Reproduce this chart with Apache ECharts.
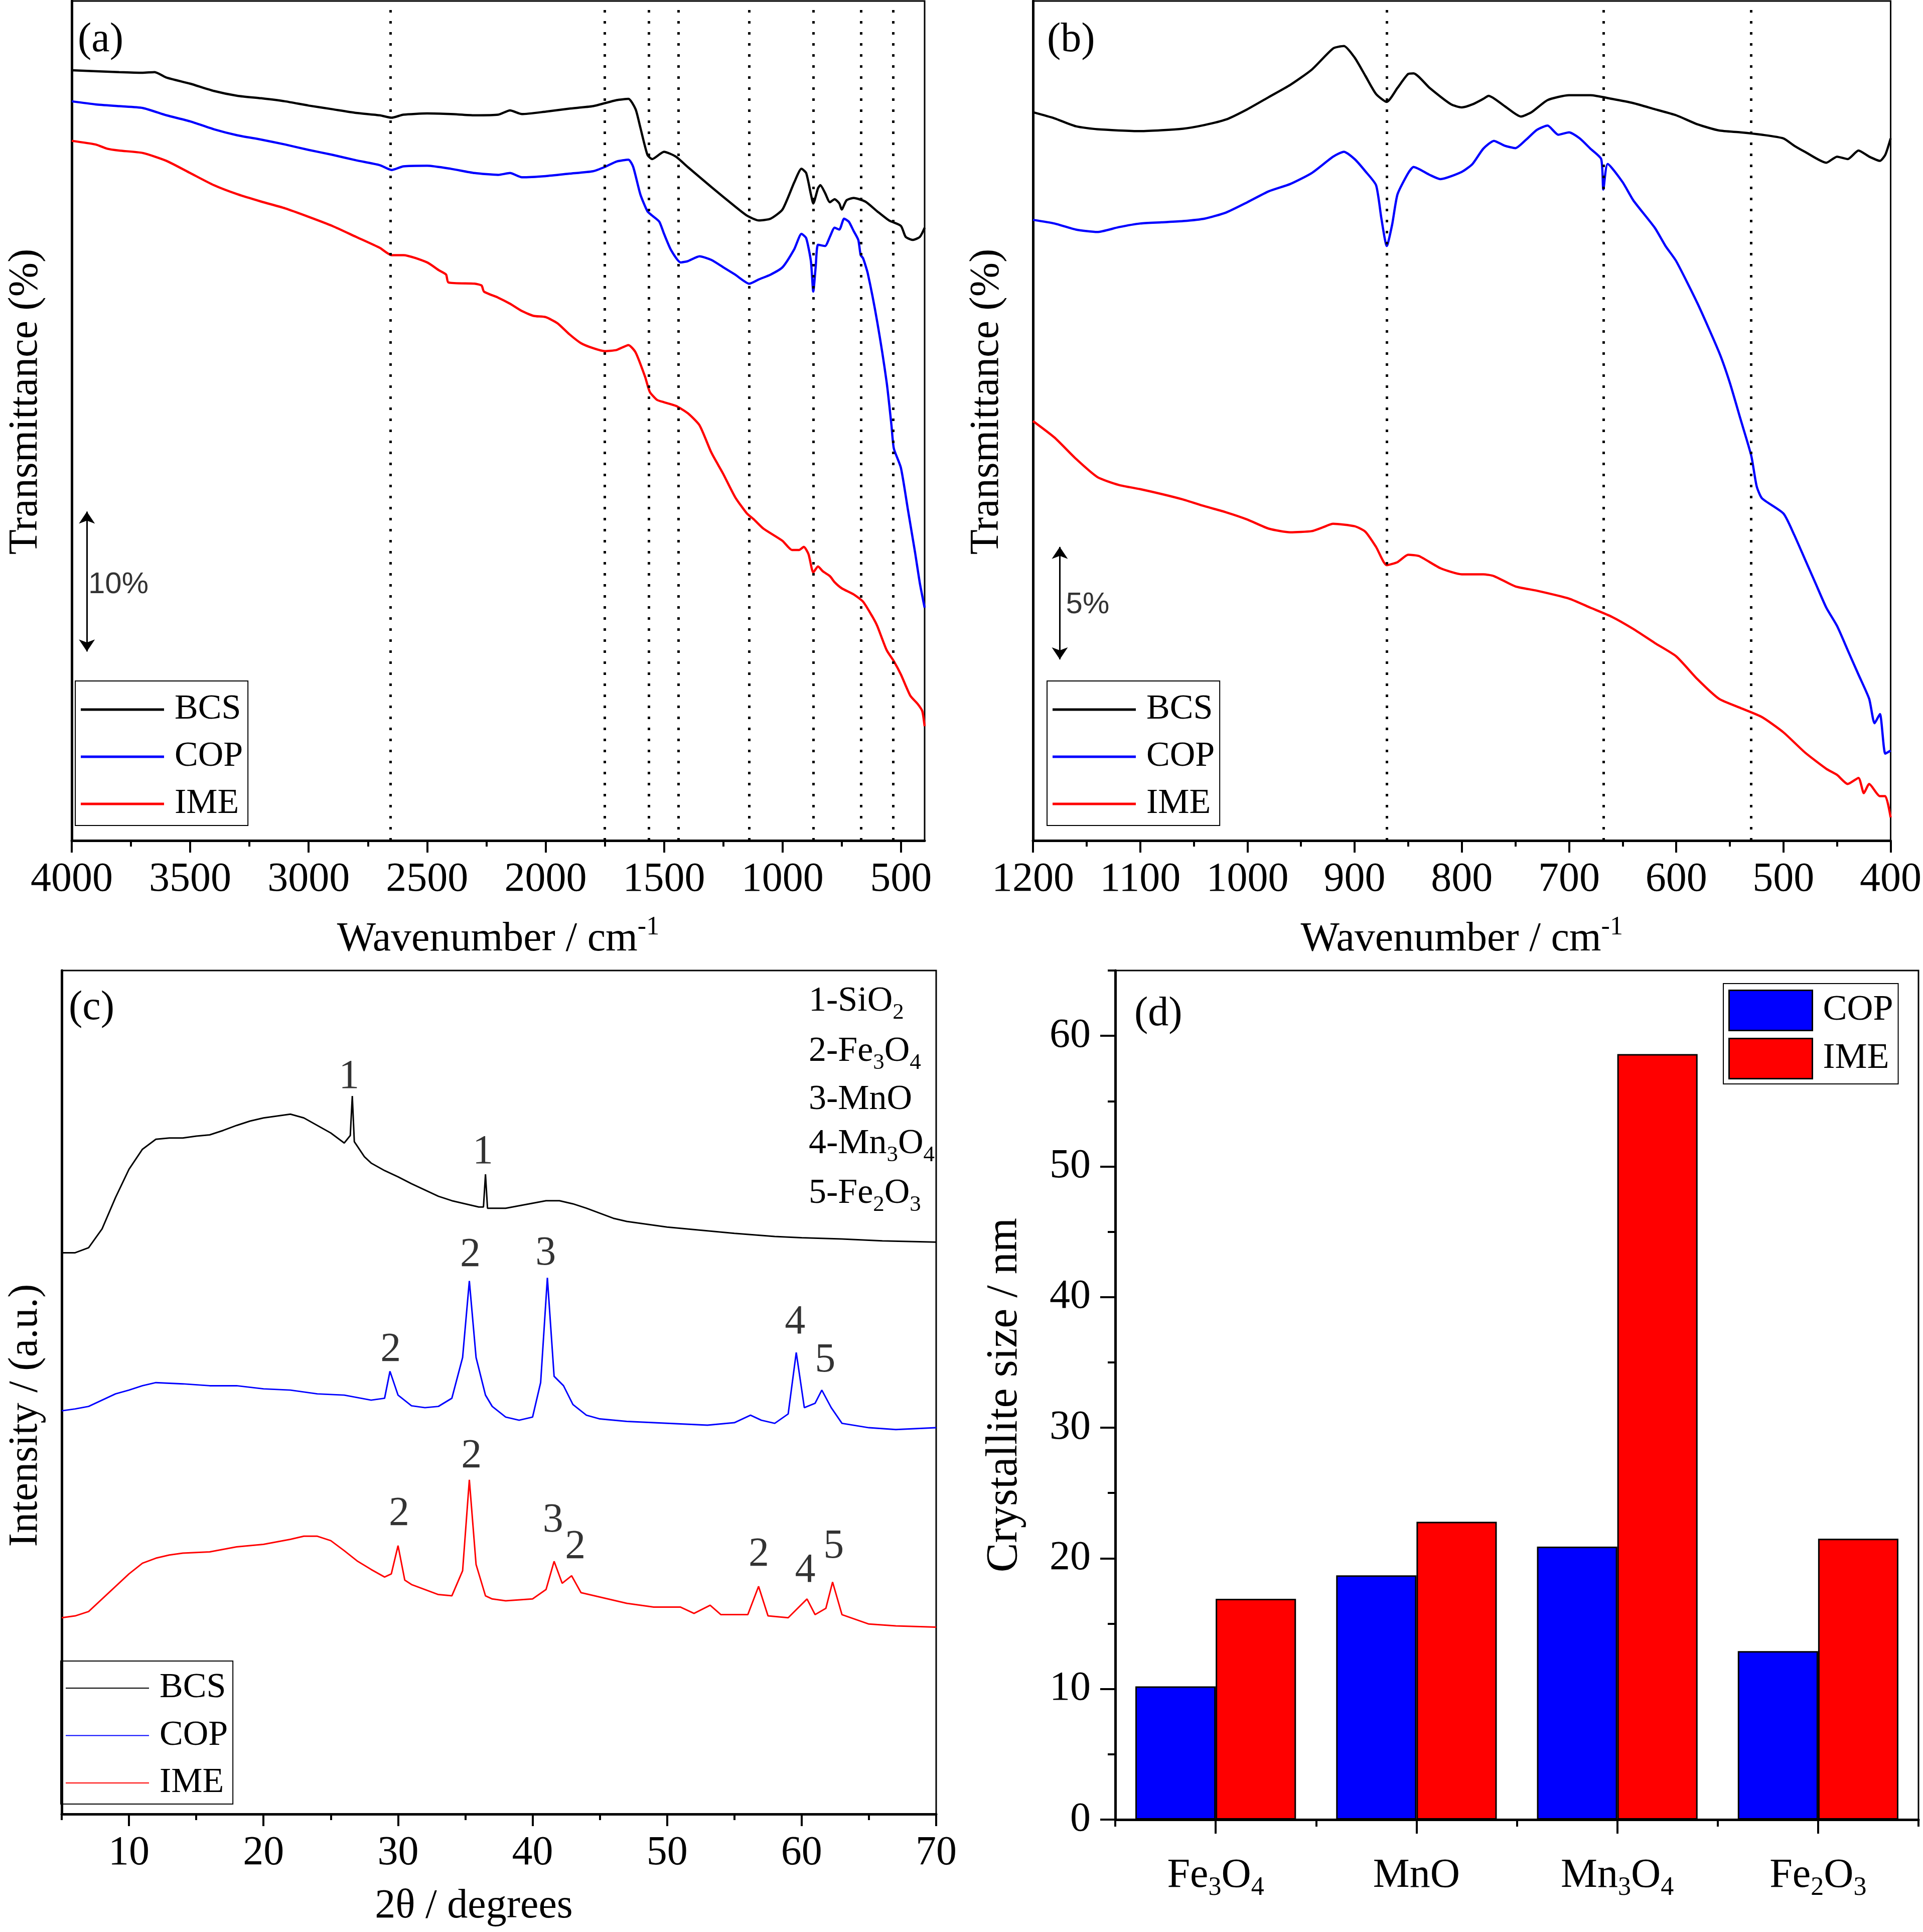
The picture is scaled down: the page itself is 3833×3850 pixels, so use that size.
<!DOCTYPE html>
<html>
<head>
<meta charset="utf-8">
<script src="https://cdn.jsdelivr.net/npm/echarts@6/dist/echarts.min.js"></script>
<style>
  html, body { margin: 0; padding: 0; background: #fff; }
  #main { width: 3833px; height: 3850px; }
</style>
</head>
<body>
<div id="main"></div>
<script>
// ---- (a) FTIR, 4000-400 cm-1 (transmittance, arbitrary offset units) ----
const bcsA = [[4000,1267],[3800,1264],[3700,1263],[3650,1264],[3600,1255],[3500,1245],[3400,1233],[3300,1225],[3200,1221],[3100,1216],[3000,1209],[2900,1203],[2800,1197],[2700,1193],[2650,1189],[2600,1194],[2500,1196],[2400,1195],[2300,1193],[2200,1194],[2150,1201],[2100,1195],[2000,1199],[1900,1204],[1800,1208],[1700,1218],[1650,1220],[1620,1203],[1600,1173],[1570,1128],[1550,1121],[1500,1133],[1450,1125],[1400,1108],[1300,1075],[1200,1043],[1150,1028],[1100,1020],[1050,1023],[1000,1038],[950,1083],[920,1105],[900,1098],[880,1063],[870,1048],[850,1073],[840,1078],[820,1065],[800,1050],[780,1055],[760,1048],[750,1038],[730,1053],[700,1057],[650,1051],[600,1035],[550,1020],[500,1011],[480,993],[450,988],[420,993],[400,1008]];
const copA = [[4000,1216],[3900,1211],[3800,1208],[3700,1205],[3600,1193],[3500,1183],[3400,1170],[3300,1160],[3200,1153],[3100,1145],[3000,1136],[2900,1128],[2800,1119],[2700,1111],[2650,1103],[2600,1109],[2500,1110],[2400,1105],[2300,1098],[2200,1095],[2150,1098],[2100,1091],[2000,1093],[1900,1097],[1800,1101],[1750,1108],[1700,1117],[1650,1120],[1630,1108],[1600,1063],[1570,1035],[1550,1028],[1520,1018],[1500,998],[1470,971],[1430,951],[1400,953],[1350,961],[1300,955],[1250,943],[1200,931],[1140,916],[1100,923],[1050,931],[1000,943],[950,973],[920,998],[900,991],[880,953],[870,903],[860,943],[850,980],[820,978],[800,993],[780,1008],[760,1005],[740,1023],[720,1018],[700,1003],[680,988],[670,963],[660,958],[640,933],[600,853],[560,753],[540,683],[530,645],[500,613],[470,543],[440,473],[420,423],[400,383]];
const imeA = [[4000,1151],[3900,1145],[3850,1138],[3800,1135],[3700,1131],[3600,1118],[3500,1098],[3400,1078],[3300,1063],[3200,1051],[3100,1040],[3000,1026],[2900,1011],[2800,993],[2700,975],[2650,963],[2600,963],[2500,951],[2450,938],[2420,931],[2410,918],[2300,916],[2270,913],[2260,903],[2200,893],[2150,883],[2100,871],[2050,863],[2000,861],[1950,851],[1900,833],[1850,818],[1800,810],[1750,805],[1700,807],[1650,815],[1620,803],[1580,763],[1560,738],[1530,725],[1500,721],[1450,715],[1400,703],[1350,683],[1300,638],[1250,603],[1200,565],[1150,538],[1120,528],[1080,513],[1000,493],[960,478],[930,478],[910,483],[890,471],[870,441],[850,451],[830,443],[800,435],[780,425],[750,415],[700,405],[660,393],[620,368],[600,353],[560,313],[530,295],[500,273],[460,238],[430,225],[410,213],[400,188]];
const dotsA = [2655, 1750, 1565, 1440, 1140, 870, 668, 532];
const ticksA = [4000, 3500, 3000, 2500, 2000, 1500, 1000, 500];
const minorA = [3750, 3250, 2750, 2250, 1750, 1250, 750];
const scaleBarA = [3936, 541, 311];   // x, top, bottom (10 %)

// ---- (b) FTIR, 1200-400 cm-1 ----
const bcsB = [[1200,1198],[1180,1188],[1160,1175],[1140,1170],[1100,1167],[1060,1171],[1040,1177],[1020,1186],[1000,1203],[980,1223],[960,1243],[940,1268],[920,1303],[910,1307],[900,1288],[890,1258],[880,1228],[870,1215],[860,1238],[850,1261],[845,1262],[830,1238],[810,1211],[800,1206],[790,1211],[780,1220],[775,1225],[760,1208],[745,1191],[735,1198],[720,1218],[700,1226],[680,1226],[660,1220],[640,1213],[620,1203],[600,1193],[580,1178],[560,1168],[540,1165],[520,1161],[500,1155],[490,1143],[480,1133],[460,1115],[450,1125],[440,1121],[430,1135],[420,1125],[410,1118],[405,1128],[400,1155]];
const copB = [[1200,1021],[1180,1015],[1160,1005],[1140,1001],[1120,1009],[1100,1015],[1080,1017],[1060,1019],[1040,1023],[1020,1033],[1000,1050],[980,1068],[960,1080],[940,1098],[920,1125],[910,1133],[900,1121],[890,1101],[880,1078],[875,1023],[870,978],[865,1013],[860,1063],[850,1098],[845,1108],[830,1095],[820,1088],[800,1100],[790,1113],[780,1138],[770,1151],[760,1143],[750,1139],[740,1153],[730,1169],[720,1176],[710,1161],[700,1165],[690,1155],[680,1138],[670,1121],[668,1071],[664,1113],[650,1083],[640,1053],[620,1008],[610,978],[600,953],[580,883],[560,803],[550,753],[540,693],[530,633],[525,583],[520,563],[500,538],[490,503],[480,463],[470,423],[460,383],[450,353],[440,313],[430,273],[420,233],[415,193],[410,208],[405,143],[400,148]];
const imeB = [[1200,690],[1180,663],[1160,628],[1140,598],[1120,585],[1100,578],[1080,570],[1060,561],[1040,550],[1020,540],[1000,528],[980,513],[960,507],[940,509],[930,515],[920,521],[900,517],[890,508],[880,483],[870,453],[860,458],[850,470],[840,468],[820,448],[800,438],[780,438],[770,435],[750,418],[730,411],[700,398],[680,383],[660,368],[640,348],[620,325],[600,303],[580,265],[560,233],[540,218],[520,203],[500,178],[480,145],[460,118],[450,108],[440,93],[430,103],[425,78],[420,93],[410,73],[405,73],[400,38]];
const dotsB = [870, 668, 530];
const ticksB = [1200, 1100, 1000, 900, 800, 700, 600, 500, 400];
const minorB = [1150, 1050, 950, 850, 750, 650, 550, 450];
const scaleBarB = [1175, 483, 298];   // x, top, bottom (5 %)

// ---- (c) XRD, 2theta 5-70 (intensity, arbitrary units) ----
const bcsC = [[5,895],[6,895],[7,903],[8,933],[9,983],[10,1028],[11,1060],[12,1076],[13,1078],[14,1078],[15,1081],[16,1083],[17,1090],[18,1098],[19,1105],[20,1110],[21,1113],[22,1116],[23,1110],[24,1098],[25,1086],[26,1070],[26.45,1082],[26.6,1145],[26.75,1072],[27.5,1048],[28,1038],[29,1026],[30,1016],[31,1005],[32,995],[33,985],[34,978],[35,973],[36,968],[36.35,968],[36.5,1020],[36.65,966],[38,966],[39,970],[40,974],[41,978],[42,978],[43,973],[44,966],[45,958],[46,950],[47,945],[48,942],[50,936],[52,932],[55,926],[58,921],[60,919],[63,917],[66,914],[70,912]];
const copC = [[5,643],[6,646],[7,650],[8,660],[9,670],[10,676],[11,683],[12,688],[14,686],[16,683],[18,683],[20,678],[22,676],[24,670],[26,668],[28,660],[29,663],[29.4,706],[30,668],[31,651],[32,648],[33,650],[34,663],[34.8,728],[35.3,850],[35.8,728],[36.5,668],[37,650],[38,633],[39,628],[40,633],[40.6,688],[41.1,855],[41.6,698],[42.3,683],[43,653],[44,636],[45,630],[47,626],[50,623],[53,620],[55,624],[56.2,636],[57,628],[58,623],[59,638],[59.6,736],[60.2,648],[61,655],[61.5,676],[62.2,648],[63,623],[65,616],[67,613],[70,616]];
const imeC = [[5,313],[6,316],[7,323],[8,343],[9,363],[10,383],[11,400],[12,408],[13,413],[14,416],[16,418],[18,426],[20,430],[22,438],[23,443],[24,443],[25,436],[26,420],[27,403],[28,390],[29,378],[29.5,383],[30,428],[30.5,373],[31,366],[32,358],[33,350],[34,348],[34.8,388],[35.3,533],[35.8,398],[36.5,348],[37,343],[38,340],[40,343],[41,358],[41.6,403],[42.2,368],[42.9,380],[43.6,353],[45,346],[47,336],[49,330],[51,330],[52,320],[53.2,333],[54,318],[56,318],[56.8,363],[57.5,316],[59,313],[60.4,343],[61,318],[61.8,328],[62.3,370],[63,318],[65,303],[67,300],[70,298]];
const peakLabelsC = [[26.36,1175,'1'],[36.31,1055,'1'],[29.45,740,'2'],[35.37,891,'2'],[40.98,893,'3'],[59.51,784,'4'],[61.75,723,'5'],[30.08,478,'2'],[35.46,570,'2'],[41.52,468,'3'],[43.18,425,'2'],[56.82,413,'2'],[60.27,388,'4'],[62.38,426,'5']];
const phaseKeyC = ['1-SiO{s|2}', '2-Fe{s|3}O{s|4}', '3-MnO', '4-Mn{s|3}O{s|4}', '5-Fe{s|2}O{s|3}'];
const ticksC = [10, 20, 30, 40, 50, 60, 70];
const minorC = [5, 15, 25, 35, 45, 55, 65];

// ---- (d) crystallite size ----
const catsD = ['Fe3O4', 'MnO', 'Mn3O4', 'Fe2O3'];
const copD = [10.2, 18.7, 20.9, 12.9];
const imeD = [16.9, 22.8, 58.6, 21.5];
const ticksD = [0, 10, 20, 30, 40, 50, 60];
const minorD = [5, 15, 25, 35, 45, 55, 65];

const F = '"Liberation Serif", "Times New Roman", serif';
const black = '#000';
const BLUE = '#0000ff';
const RED = '#ff0000';

const chart = echarts.init(document.getElementById('main'));

const axisLine = { show: true, onZero: false, lineStyle: { color: black, width: 5 } };
const subRich = { s: { fontFamily: F, fontSize: 52, lineHeight: 56, verticalAlign: 'bottom', color: black } };
const keyRich = { s: { fontFamily: F, fontSize: 45, lineHeight: 50, verticalAlign: 'bottom', color: black } };
const supRich = { p: { fontFamily: F, fontSize: 52, lineHeight: 50, verticalAlign: 'top', color: black } };

// major axis with labels + overlay axis carrying only the short ticks
function xPair(gridIndex, min, max, inverse, major, minor, name, nameGap, namePadding) {
  return [{
    type: 'value', gridIndex, min, max, inverse, position: 'bottom',
    axisLine,
    axisTick: { show: true, customValues: major, length: 24, lineStyle: { color: black, width: 4 } },
    axisLabel: { show: true, customValues: major, margin: 28, fontFamily: F, fontSize: 82, color: black, lineHeight: 100, formatter: v => String(v) },
    splitLine: { show: false },
    name, nameLocation: 'middle', nameGap,
    nameTextStyle: { fontFamily: F, fontSize: 82, color: black, lineHeight: 100, padding: namePadding, rich: supRich }
  }, {
    type: 'value', gridIndex, min, max, inverse, position: 'bottom',
    axisLine: { show: false },
    axisTick: { show: true, customValues: minor, length: 12, lineStyle: { color: black, width: 4 } },
    axisLabel: { show: false },
    splitLine: { show: false }
  }];
}

function yPlain(gridIndex, max, name, nameGap, namePadding) {
  return {
    type: 'value', gridIndex, min: 0, max, position: 'left',
    axisLine, axisTick: { show: false }, axisLabel: { show: false }, splitLine: { show: false },
    name, nameLocation: 'middle', nameGap,
    nameTextStyle: { fontFamily: F, fontSize: 82, color: black, lineHeight: 100, padding: namePadding }
  };
}

function line(name, data, xi, yi, color, width, extra) {
  return Object.assign({
    type: 'line', name, data, xAxisIndex: xi, yAxisIndex: yi,
    symbol: 'none', showSymbol: false, smooth: 0.2,
    lineStyle: { color, width }, itemStyle: { color },
    silent: true, animation: false
  }, extra || {});
}

function dotted(values) {
  return {
    silent: true, symbol: ['none', 'none'], label: { show: false }, animation: false,
    lineStyle: { color: black, width: 5, type: [5, 17] },
    data: values.map(v => ({ xAxis: v }))
  };
}

function arrow(bar) {
  return {
    silent: true, symbol: ['arrow', 'arrow'], symbolSize: 24, label: { show: false }, animation: false,
    lineStyle: { color: black, width: 3, type: 'solid' },
    data: [[{ coord: [bar[0], bar[1]] }, { coord: [bar[0], bar[2]] }]]
  };
}

function textMarks(name, data, xi, yi, font, size) {
  return {
    type: 'scatter', name, data, xAxisIndex: xi, yAxisIndex: yi,
    symbolSize: 0.1, itemStyle: { color: 'transparent' }, silent: true, animation: false,
    label: { show: true, position: 'inside', formatter: p => p.data[2], fontFamily: font, fontSize: size, color: black }
  };
}

function legendBox(data, left, top, iconH, padding, gap, fontSize) {
  return {
    data, orient: 'vertical', left, top, padding,
    icon: 'rect', itemWidth: 166, itemHeight: iconH, itemGap: gap,
    borderColor: black, borderWidth: 2, selectedMode: false,
    textStyle: { fontFamily: F, fontSize, color: black, lineHeight: fontSize, padding: [0, 0, 0, 16] }
  };
}

const grids = [
  { left: 127, top: 2, width: 1716, height: 1673 },
  { left: 2059, top: 2, width: 1715, height: 1673 },
  { left: 110, top: 1934, width: 1756, height: 1691 },
  { left: 2223, top: 1934, width: 1601, height: 1692 }
].map(g => Object.assign(g, { show: true, borderColor: black, borderWidth: 3, backgroundColor: 'transparent', containLabel: false }));

const xAxes = [].concat(
  xPair(0, 400, 4000, true, ticksA, minorA, 'Wavenumber / cm{p|-1}', 147, [0, 0, 0, 0]),
  xPair(1, 400, 1200, true, ticksB, minorB, 'Wavenumber / cm{p|-1}', 147, [0, 0, 0, 0]),
  xPair(2, 5, 70, false, ticksC, minorC, '2θ / degrees', 134, [0, 100, 0, 0]),
  [{
    type: 'category', gridIndex: 3, data: catsD, position: 'bottom',
    axisLine,
    axisTick: { show: true, alignWithLabel: true, interval: 0, length: 28, lineStyle: { color: black, width: 4 } },
    axisLabel: { interval: 0, margin: 62, fontFamily: F, fontSize: 82, color: black, lineHeight: 100,
      formatter: v => v.replace(/(\d)/g, '{s|$1}'), rich: subRich },
    splitLine: { show: false }
  }, {
    type: 'category', gridIndex: 3, data: catsD, position: 'bottom',
    axisLine: { show: false },
    axisTick: { show: true, interval: 0, length: 14, lineStyle: { color: black, width: 4 } },
    axisLabel: { show: false }, splitLine: { show: false }
  }]
);

const yAxes = [
  yPlain(0, 1381, 'Transmittance (%)', 42, [0, 0, 0, 76]),
  yPlain(1, 1381, 'Transmittance (%)', 42, [0, 0, 0, 76]),
  yPlain(2, 1345, 'Intensity / (a.u.)', 22, [0, 92, 0, 0]),
  {
    type: 'value', gridIndex: 3, min: 0, max: 65, position: 'left',
    axisLine,
    axisTick: { show: true, customValues: ticksD, length: 30, lineStyle: { color: black, width: 4 } },
    axisLabel: { customValues: ticksD, margin: 49, fontFamily: F, fontSize: 82, color: black, formatter: v => String(v) },
    splitLine: { show: false },
    name: 'Crystallite size / nm', nameLocation: 'middle', nameGap: 170,
    nameTextStyle: { fontFamily: F, fontSize: 88, color: black, lineHeight: 100 }
  }, {
    type: 'value', gridIndex: 3, min: 0, max: 65, position: 'left',
    axisLine: { show: false },
    axisTick: { show: true, customValues: minorD, length: 15, lineStyle: { color: black, width: 4 } },
    axisLabel: { show: false }, splitLine: { show: false }
  }
];

const series = [
  // (a)
  line('BCS', bcsA, 0, 0, black, 4.5, { markLine: dotted(dotsA) }),
  line('COP', copA, 0, 0, BLUE, 4.5, { markLine: arrow(scaleBarA) }),
  line('IME', imeA, 0, 0, RED, 4.5),
  textMarks('pctA', [[3803, 421, '10%']], 0, 0, '"Liberation Sans", Arial, sans-serif', 60),
  // (b)
  line('BCS', bcsB, 2, 1, black, 4.5, { markLine: dotted(dotsB) }),
  line('COP', copB, 2, 1, BLUE, 4.5, { markLine: arrow(scaleBarB) }),
  line('IME', imeB, 2, 1, RED, 4.5),
  textMarks('pctB', [[1149, 388, '5%']], 2, 1, '"Liberation Sans", Arial, sans-serif', 60),
  // (c)
  line('BCS', bcsC, 4, 2, black, 3, { smooth: false }),
  line('COP', copC, 4, 2, BLUE, 3, { smooth: false }),
  line('IME', imeC, 4, 2, RED, 3, { smooth: false }),
  textMarks('peaksC', peakLabelsC, 4, 2, F, 82),
  // (d)
  { type: 'bar', name: 'COP', data: copD, xAxisIndex: 6, yAxisIndex: 3, barGap: '0%', barCategoryGap: '20%',
    itemStyle: { color: BLUE, borderColor: black, borderWidth: 3 }, silent: true, animation: false },
  { type: 'bar', name: 'IME', data: imeD, xAxisIndex: 6, yAxisIndex: 3, barGap: '0%', barCategoryGap: '20%',
    itemStyle: { color: RED, borderColor: black, borderWidth: 3 }, silent: true, animation: false }
];

const legends = [
  legendBox(['BCS', 'COP', 'IME'], 150, 1357, 5, [22, 10, 8, 11], 24, 70),
  legendBox(['BCS', 'COP', 'IME'], 2087, 1357, 5, [22, 10, 8, 11], 24, 70),
  legendBox(['BCS', 'COP', 'IME'], 121, 3310, 2, [19, 10, 7, 10], 24.5, 70),
  Object.assign(legendBox(['COP', 'IME'], 3435, 1960, 80, [12, 10, 9, 10], 13, 72), {
    itemStyle: { borderColor: black, borderWidth: 3 }
  })
];

function label(x, y, text, size, rich) {
  return {
    type: 'text', x, y, silent: true,
    style: { text, fontFamily: F, fontSize: size, fill: black, lineHeight: rich ? 90 : size,
      align: 'left', verticalAlign: 'middle', textAlign: 'left', textVerticalAlign: 'middle', rich }
  };
}

const keyRows = [1996, 2096, 2192, 2280, 2379];
const graphic = [
  label(155, 80, '(a)', 82),
  label(2087, 80, '(b)', 82),
  label(137, 2009, '(c)', 82),
  label(2261, 2021, '(d)', 82)
].concat(phaseKeyC.map((t, i) => label(1612, keyRows[i], t, 70, keyRich)));

chart.setOption({
  backgroundColor: '#fff',
  animation: false,
  grid: grids,
  xAxis: xAxes,
  yAxis: yAxes,
  legend: legends,
  series,
  graphic
});
</script>
</body>
</html>
